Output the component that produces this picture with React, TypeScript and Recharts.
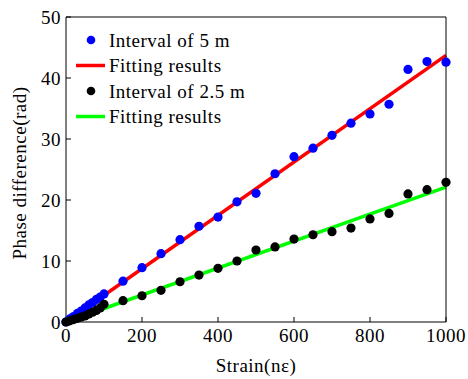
import React from 'react';
import { ComposedChart, Scatter, Line, XAxis, YAxis } from 'recharts';

const strain = [0, 10, 20, 30, 40, 50, 60, 70, 80, 90, 100, 150, 200, 250, 300, 350, 400, 450, 500, 550, 600, 650, 700, 750, 800, 850, 900, 950, 1000];
const phase5m = [0, 0.5, 0.9, 1.4, 1.8, 2.3, 2.8, 3.2, 3.7, 4.1, 4.6, 6.7, 8.9, 11.2, 13.5, 15.7, 17.2, 19.7, 21.1, 24.3, 27.1, 28.5, 30.6, 32.6, 34.1, 35.7, 41.4, 42.7, 42.6];
const phase25m = [0, 0.2, 0.4, 0.6, 0.8, 1.0, 1.3, 1.6, 1.9, 2.3, 2.9, 3.5, 4.3, 5.2, 6.6, 7.7, 8.8, 10.0, 11.8, 12.3, 13.6, 14.3, 14.8, 15.4, 16.9, 17.8, 21.0, 21.7, 22.9];
const fitStrain = [0, 1000];
const fit5m = [0, 43.7];
const fit25m = [0, 22.1];
const xTicks = [0, 200, 400, 600, 800, 1000];
const yTicks = [0, 10, 20, 30, 40, 50];
const legendLabels = ['Interval of 5 m', 'Fitting results', 'Interval of 2.5 m', 'Fitting results'];

const blueData = strain.map((s, i) => ({ x: s, y: phase5m[i] }));
const blackData = strain.map((s, i) => ({ x: s, y: phase25m[i] }));
const redData = fitStrain.map((s, i) => ({ x: s, y: fit5m[i] }));
const greenData = fitStrain.map((s, i) => ({ x: s, y: fit25m[i] }));

const FONT = '"Liberation Serif", "Times New Roman", serif';
const FS = 19;
const LS = 0.5;

const dot = (color: string) => (props: any) => (
  <circle cx={props.cx} cy={props.cy} r={4.6} fill={color} />
);

const LegendBox = () => {
  const rows = [
    { type: 'dot', color: '#0000ff' },
    { type: 'line', color: '#ff0000' },
    { type: 'dot', color: '#000000' },
    { type: 'line', color: '#00ff00' },
  ];
  return (
    <svg width={210} height={104} style={{ position: 'absolute', left: 74, top: 28, display: 'block' }}>
      {rows.map((r, i) => {
        const cy = 12 + i * 25.5;
        return (
          <g key={i}>
            {r.type === 'dot' ? (
              <circle cx={17} cy={cy} r={4.3} fill={r.color} />
            ) : (
              <line x1={2} x2={31} y1={cy} y2={cy} stroke={r.color} strokeWidth={3.5} />
            )}
            <text x={35} y={cy + 6.5} fontFamily={FONT} fontSize={FS} letterSpacing={LS} fill="#000">
              {legendLabels[i]}
            </text>
          </g>
        );
      })}
    </svg>
  );
};

const YLabel = (props: any) => {
  const cx = 19;
  const cy = 173;
  return (
    <text x={cx} y={cy} transform={`rotate(-90 ${cx} ${cy})`} textAnchor="middle" dominantBaseline="central" fontFamily={FONT} fontSize={FS} letterSpacing={LS} fill="#000">
      Phase difference(rad)
    </text>
  );
};

const XLabel = (props: any) => {
  const vb = props.viewBox || {};
  const cx = (vb.x ?? 66) + (vb.width ?? 381) / 2;
  return (
    <text x={cx} y={372} textAnchor="middle" fontFamily={FONT} fontSize={FS} letterSpacing={LS} fill="#000">
      Strain(nε)
    </text>
  );
};

export default function App() {
  const tickStyle = { fontFamily: FONT, fontSize: FS, fill: '#000', letterSpacing: LS };
  return (
    <div style={{ position: 'absolute', left: 0, top: 0, width: 468, height: 379, background: '#fff' }}>
      <ComposedChart width={468} height={379} margin={{ top: 16, right: 21, bottom: 0, left: 0 }}>
        <XAxis
          xAxisId="b"
          type="number"
          dataKey="x"
          domain={[0, 1000]}
          ticks={xTicks}
          height={57}
          tickSize={-5}
          tickMargin={12}
          tick={tickStyle}
          stroke="#000"
          axisLine={{ stroke: '#000', strokeWidth: 1 }}
          tickLine={{ stroke: '#000' }}
          label={<XLabel />}
        />
        <XAxis
          xAxisId="t"
          orientation="top"
          type="number"
          dataKey="x"
          domain={[0, 1000]}
          ticks={xTicks}
          height={1}
          tickSize={-5}
          tick={false}
          stroke="#000"
          axisLine={{ stroke: '#000', strokeWidth: 1 }}
          tickLine={{ stroke: '#000' }}
        />
        <YAxis
          yAxisId="l"
          type="number"
          dataKey="y"
          domain={[0, 50]}
          ticks={yTicks}
          width={66}
          tickSize={-5}
          tickMargin={10}
          tick={tickStyle}
          stroke="#000"
          axisLine={{ stroke: '#000', strokeWidth: 1 }}
          tickLine={{ stroke: '#000' }}
          label={<YLabel />}
        />
        <YAxis
          yAxisId="r"
          orientation="right"
          type="number"
          dataKey="y"
          domain={[0, 50]}
          ticks={yTicks}
          width={1}
          tickSize={-5}
          tick={false}
          stroke="#000"
          axisLine={{ stroke: '#000', strokeWidth: 1 }}
          tickLine={{ stroke: '#000' }}
        />
        <Scatter xAxisId="b" yAxisId="l" data={blueData} dataKey="y" shape={dot('#0000ff')} isAnimationActive={false} />
        <Line xAxisId="b" yAxisId="l" data={redData} dataKey="y" type="linear" stroke="#ff0000" strokeWidth={3.5} dot={false} activeDot={false} isAnimationActive={false} />
        <Scatter xAxisId="b" yAxisId="l" data={blackData} dataKey="y" shape={dot('#000000')} isAnimationActive={false} />
        <Line xAxisId="b" yAxisId="l" data={greenData} dataKey="y" type="linear" stroke="#00ff00" strokeWidth={3.5} dot={false} activeDot={false} isAnimationActive={false} />
        <Scatter xAxisId="t" yAxisId="r" data={blueData} dataKey="y" shape={() => null} isAnimationActive={false} />
      </ComposedChart>
      <LegendBox />
    </div>
  );
}
